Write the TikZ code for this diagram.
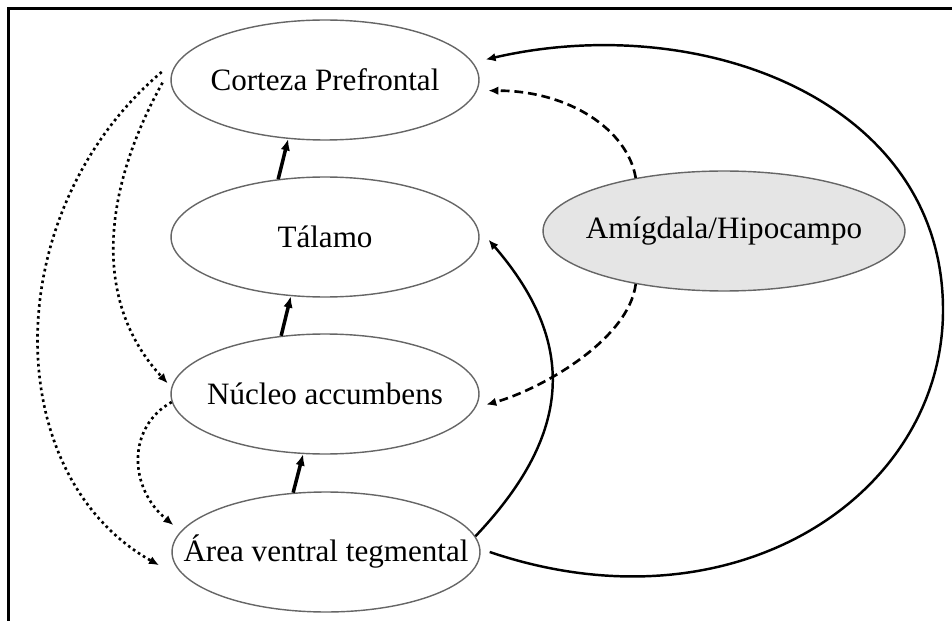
\documentclass[tikz,border=0pt]{standalone}
\usepackage{fontspec}
\setmainfont{Liberation Serif}
\usepackage{xcolor}
\usepackage{tikz}
\usetikzlibrary{shapes.geometric}
\usetikzlibrary{arrows.meta}

\tikzset{
    region/.style={ellipse, draw=black!60, line width=0.8pt,
        minimum width=6.16cm, minimum height=2.4cm,
        inner xsep=-0.7cm, inner ysep=0pt,
        font=\fontsize{17.7}{21}\selectfont},
    sube/.style={line width=2pt, -{Latex[length=2.3mm,width=1.9mm]}},
    punteada/.style={line width=1.5pt, dash pattern=on 1.5pt off 1.9pt,
        -{Latex[length=2mm,width=1.7mm]}},
    discontinua/.style={line width=1.5pt, dash pattern=on 5pt off 2.8pt,
        -{Latex[length=2mm,width=1.7mm]}},
    continua/.style={line width=1.4pt, -{Latex[length=2mm,width=1.7mm]}}
}

\begin{document}
\begin{tikzpicture}[x=0.02cm, y=-0.02cm]
        \useasboundingbox (0,0) rectangle (952,621);

        % Marco
        \draw[line width=1.5pt] (8.7,621) -- (8.7,8.5) -- (952,8.5);

        % Regiones
        \node[region] (cp) at (325,80) {Corteza Prefrontal};
        \node[region] (tal) at (325,237) {Tálamo};
        \node[region] (na) at (325,394) {Núcleo accumbens};
        \node[region] (avt) at (326,552) {Área ventral tegmental};
        \node[region, fill=black!10, minimum width=7.24cm] (amh) at (724,231) {Amígdala/Hipocampo};
        \coordinate (giro) at (943,310);

        % Flechas cortas
        \draw[sube] (tal.129) -- (cp.238);
        \draw[sube] (na.127) -- (tal.240);
        \draw[sube] (avt.119) -- (na.250);

        % Punteadas
        \draw[punteada] ([xshift=-0.2cm]cp.177)
            .. controls +(-165,140) and +(-160,-90) .. ([xshift=-0.32cm]avt.185);
        \draw[punteada] ([xshift=-0.16cm]cp.181)
            .. controls +(-60,108) and +(-76,-82) .. ([xshift=-0.1cm]na.176);
        \draw[punteada] (na.183)
            .. controls +(-45,25) and +(-45,-37) .. ([xshift=-0.28cm]avt.169);

        % Discontinuas
        \draw[discontinua] (amh.149)
            .. controls +(-8,-48) and +(81,0) .. ([xshift=0.22cm]cp.356);
        \draw[discontinua] (amh.211)
            .. controls +(-7,56) and +(54,-15) .. ([xshift=0.18cm]na.356);

        % Continuas
        \draw[continua] (avt.6)
            .. controls +(90,-95) and +(95,110) .. ([xshift=0.18cm]tal.359);
        \draw[continua] ([xshift=0.18cm]avt.0)
            .. controls (735,635) and (943,495) .. (giro)
            .. controls (943,100) and (700,10) .. ([xshift=0.3cm]cp.8);
    \end{tikzpicture}
\end{document}
